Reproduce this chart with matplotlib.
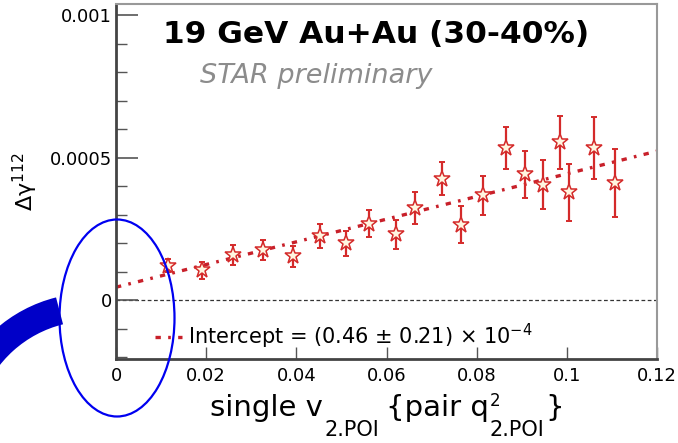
import numpy as np
import matplotlib
matplotlib.use("Agg")
import matplotlib.pyplot as plt
from matplotlib.patches import Ellipse, Arc
from matplotlib.ticker import MultipleLocator

plt.rcParams['font.family'] = ['DejaVu Sans']
plt.rcParams['mathtext.fontset'] = 'dejavusans'

# single v2 {pair q2} bins and Delta gamma112 (units of 1e-4)
v2_single = [0.0115, 0.0191, 0.0260, 0.0326, 0.0393, 0.0452, 0.0510, 0.0561, 0.0621, 0.0663,
             0.0723, 0.0765, 0.0814, 0.0865, 0.0907, 0.0947, 0.0985, 0.1005, 0.1060, 0.1107]
dgamma = [1.22, 1.05, 1.60, 1.78, 1.54, 2.27, 2.01, 2.69, 2.31, 3.25,
          4.27, 2.66, 3.69, 5.35, 4.42, 4.06, 5.54, 3.80, 5.35, 4.13]
dgamma_err = [0.24, 0.31, 0.35, 0.35, 0.38, 0.42, 0.44, 0.47, 0.51, 0.56,
              0.59, 0.65, 0.68, 0.73, 0.82, 0.86, 0.93, 1.00, 1.08, 1.19]

# linear fit parameters (units of 1e-4)
fit_intercept = 0.46
fit_intercept_err = 0.21
fit_slope = 39.8

x_ticks = [0, 0.02, 0.04, 0.06, 0.08, 0.1, 0.12]
x_ticklabels = ['0', '0.02', '0.04', '0.06', '0.08', '0.1', '0.12']
y_ticks = [0, 0.0005, 0.001]
y_ticklabels = ['0', '0.0005', '0.001']

RED = '#d42a2a'
W, H = 678, 443


def fx(px):
    return px / W


def fy(py):
    return 1 - py / H


fig = plt.figure(figsize=(W / 100, H / 100), dpi=100)
ax = fig.add_axes([fx(116), fy(359), 541 / W, 355 / H])

x = np.array(v2_single)
y = np.array(dgamma) * 1e-4
yerr = np.array(dgamma_err) * 1e-4

ax.axhline(0, color='#333333', lw=0.9, ls=(0, (3, 2)), zorder=1)

xfit = np.array([0, 0.12])
yfit = (fit_intercept + fit_slope * xfit) * 1e-4
fit_line, = ax.plot(xfit, yfit, color='#c8202a', lw=2.4, ls=(0, (1.6, 2.2, 0.8, 2.2)), zorder=2,
                    label='Intercept = (%.2f ± %.2f) × 10$^{-4}$' % (fit_intercept, fit_intercept_err))

ax.errorbar(x, y, yerr=yerr, fmt='none', ecolor=RED, elinewidth=1.6, capsize=2.5, capthick=1.4, zorder=3)
ax.plot(x, y, ls='none', marker='*', ms=12, mfc='#fff6e0', mec=RED, mew=1.1, zorder=4)

ax.set_xlim(0, 0.12)
ax.set_ylim(-0.000206, 0.00104)
ax.set_xticks(x_ticks, x_ticklabels)
ax.set_yticks(y_ticks, y_ticklabels)
ax.yaxis.set_minor_locator(MultipleLocator(0.0001))
ax.tick_params(axis='both', which='both', direction='in', labelsize=13, color='#555555')
ax.tick_params(axis='y', which='major', length=16, width=1.2, pad=3)
ax.tick_params(axis='y', which='minor', length=8, width=1.0)
ax.tick_params(axis='x', which='major', length=9, width=1.0, pad=6)

for side in ['left', 'bottom']:
    ax.spines[side].set_color('#444444')
    ax.spines[side].set_linewidth(2.0)
for side in ['top', 'right']:
    ax.spines[side].set_color('#999999')
    ax.spines[side].set_linewidth(1.5)

ax.legend(handles=[fit_line], loc='center left', bbox_to_anchor=(fx(155), fy(336)),
          bbox_transform=fig.transFigure, borderpad=0, borderaxespad=0, frameon=False,
          fontsize=15, handlelength=1.3, handletextpad=0.3)

fig.text(fx(163), fy(43), '19 GeV Au+Au (30-40%)', fontsize=22.5, fontweight='bold',
         va='baseline', ha='left')
fig.text(fx(200), fy(83), 'STAR preliminary', fontsize=19.5, style='italic',
         color='#8c8c8c', va='baseline', ha='left')
fig.text(fx(25), fy(182), 'Δγ$^{112}$', fontsize=16, rotation=90, ha='center', va='center')

# x axis title built piece by piece so the sub/superscripts sit low like ROOT's
renderer = fig.canvas.get_renderer()


def right_edge(t):
    return t.get_window_extent(renderer).x1


base, sub_base = fy(416), fy(436)
t = fig.text(fx(210), base, 'single v', fontsize=21, va='baseline')
t = fig.text(fx(right_edge(t) + 2), sub_base, '2.POI', fontsize=15, va='baseline')
t = fig.text(fx(right_edge(t) + 6), base, '{pair q', fontsize=21, va='baseline')
q_end = right_edge(t)
fig.text(fx(q_end + 1), fy(406), '2', fontsize=12, va='baseline')
t = fig.text(fx(q_end + 1), sub_base, '2.POI', fontsize=15, va='baseline')
fig.text(fx(right_edge(t) + 1), base, '}', fontsize=21, va='baseline')

# blue highlight around the origin
over = fig.add_axes([0, 0, 1, 1], facecolor='none', zorder=10)
over.set_xlim(0, W)
over.set_ylim(H, 0)
over.axis('off')
over.add_patch(Ellipse((117, 318), 115, 197, fill=False, ec='#0000f0', lw=1.6))
over.add_patch(Arc((91, 437), 260, 260, theta1=200, theta2=256, color='#0000c8', lw=20,
                   capstyle='butt'))

fig.savefig('out.png', dpi=100)
